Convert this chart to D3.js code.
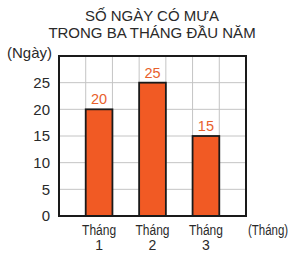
<!DOCTYPE html>
<html>
<head>
<meta charset="utf-8">
<script src="https://cdn.jsdelivr.net/npm/d3@7"></script>
<style>
  body { margin: 0; background: #fff; }
  text { font-family: "Liberation Sans", Arial, sans-serif; fill: #2a2a2a; }
</style>
</head>
<body>
<script>
// data
var months = ["1", "2", "3"];
var rainDays = [20, 25, 15];
var yTicks = [0, 5, 10, 15, 20, 25];
var titleLines = ["SỐ NGÀY CÓ MƯA", "TRONG BA THÁNG ĐẦU NĂM"];

var width = 292, height = 255;
var plotLeft = 59, plotRight = 246, plotTop = 56, plotBottom = 216;

var svg = d3.select("body").append("svg")
    .attr("width", width)
    .attr("height", height);

var x = d3.scaleBand()
    .domain(months)
    .range([plotLeft, plotRight])
    .paddingInner(0.5)
    .paddingOuter(0.5);

var y = d3.scaleLinear()
    .domain([0, 30])
    .range([plotBottom, plotTop]);

// grid columns, one per half-step of the band scale
var cols = d3.range(0, 8);
var colX = d3.scaleLinear().domain([0, 7]).range([plotLeft, plotRight]);

svg.selectAll(".vgrid")
    .data(cols)
    .enter()
    .append("line")
    .attr("class", "vgrid")
    .attr("x1", function(d){ return colX(d); })
    .attr("x2", function(d){ return colX(d); })
    .attr("y1", plotTop)
    .attr("y2", plotBottom)
    .attr("stroke", "#c4c4c4")
    .attr("stroke-width", 1);

svg.selectAll(".hgrid")
    .data(y.ticks(6))
    .enter()
    .append("line")
    .attr("class", "hgrid")
    .attr("x1", plotLeft)
    .attr("x2", plotRight)
    .attr("y1", function(d){ return y(d); })
    .attr("y2", function(d){ return y(d); })
    .attr("stroke", "#c4c4c4")
    .attr("stroke-width", 1);

//bars
svg.selectAll(".bar")
    .data(rainDays)
    .enter()
    .append("rect")
    .attr("class", "bar")
    .attr("x", function(d, i){ return x(months[i]); })
    .attr("y", function(d){ return y(d); })
    .attr("width", x.bandwidth())
    .attr("height", function(d){ return y(0) - y(d); })
    .attr("fill", "#f15a24")
    .attr("stroke", "#1a1a1a")
    .attr("stroke-width", 1.8);

svg.selectAll(".val")
    .data(rainDays)
    .enter()
    .append("text")
    .attr("class", "val")
    .attr("x", function(d, i){ return x(months[i]) + x.bandwidth() / 2; })
    .attr("y", function(d){ return y(d) - 5; })
    .attr("text-anchor", "middle")
    .style("font-size", "14.5px")
    .style("fill", "#e8602c")
    .text(function(d){ return d; });

//frame
svg.append("rect")
    .attr("x", plotLeft)
    .attr("y", plotTop)
    .attr("width", plotRight - plotLeft)
    .attr("height", plotBottom - plotTop)
    .attr("fill", "none")
    .attr("stroke", "#1a1a1a")
    .attr("stroke-width", 2);

//y axis labels
var yAxis = d3.axisLeft(y)
    .tickValues(yTicks)
    .tickSize(0)
    .tickPadding(9);
var gy = svg.append("g")
    .attr("transform", "translate(" + plotLeft + ",0)")
    .call(yAxis);
gy.select(".domain").remove();
gy.selectAll("text")
    .style("font-size", "15px")
    .style("font-family", "Liberation Sans, Arial, sans-serif")
    .attr("fill", "#2a2a2a");

svg.append("text")
    .attr("x", 52)
    .attr("y", 58)
    .attr("text-anchor", "end")
    .style("font-size", "15px")
    .text("(Ngày)");

//x labels (the original face is narrower than Arial, so squeeze a bit)
svg.selectAll(".xlab")
    .data(months)
    .enter()
    .append("text")
    .attr("class", "xlab")
    .attr("x", function(d){ return x(d) + x.bandwidth() / 2; })
    .attr("y", 235)
    .attr("text-anchor", "middle")
    .attr("textLength", 34)
    .attr("lengthAdjust", "spacingAndGlyphs")
    .style("font-size", "14px")
    .text("Tháng");

svg.selectAll(".xnum")
    .data(months)
    .enter()
    .append("text")
    .attr("class", "xnum")
    .attr("x", function(d){ return x(d) + x.bandwidth() / 2; })
    .attr("y", 250)
    .attr("text-anchor", "middle")
    .style("font-size", "14px")
    .text(function(d){ return d; });

svg.append("text")
    .attr("transform", "translate(248,235) scale(0.82,1)")
    .style("font-size", "14px")
    .text("(Tháng)");

//title
svg.selectAll(".title")
    .data(titleLines)
    .enter()
    .append("text")
    .attr("class", "title")
    .attr("x", 152)
    .attr("y", function(d, i){ return 21 + i * 17; })
    .attr("text-anchor", "middle")
    .style("font-size", "15px")
    .text(function(d){ return d; });
</script>
</body>
</html>
